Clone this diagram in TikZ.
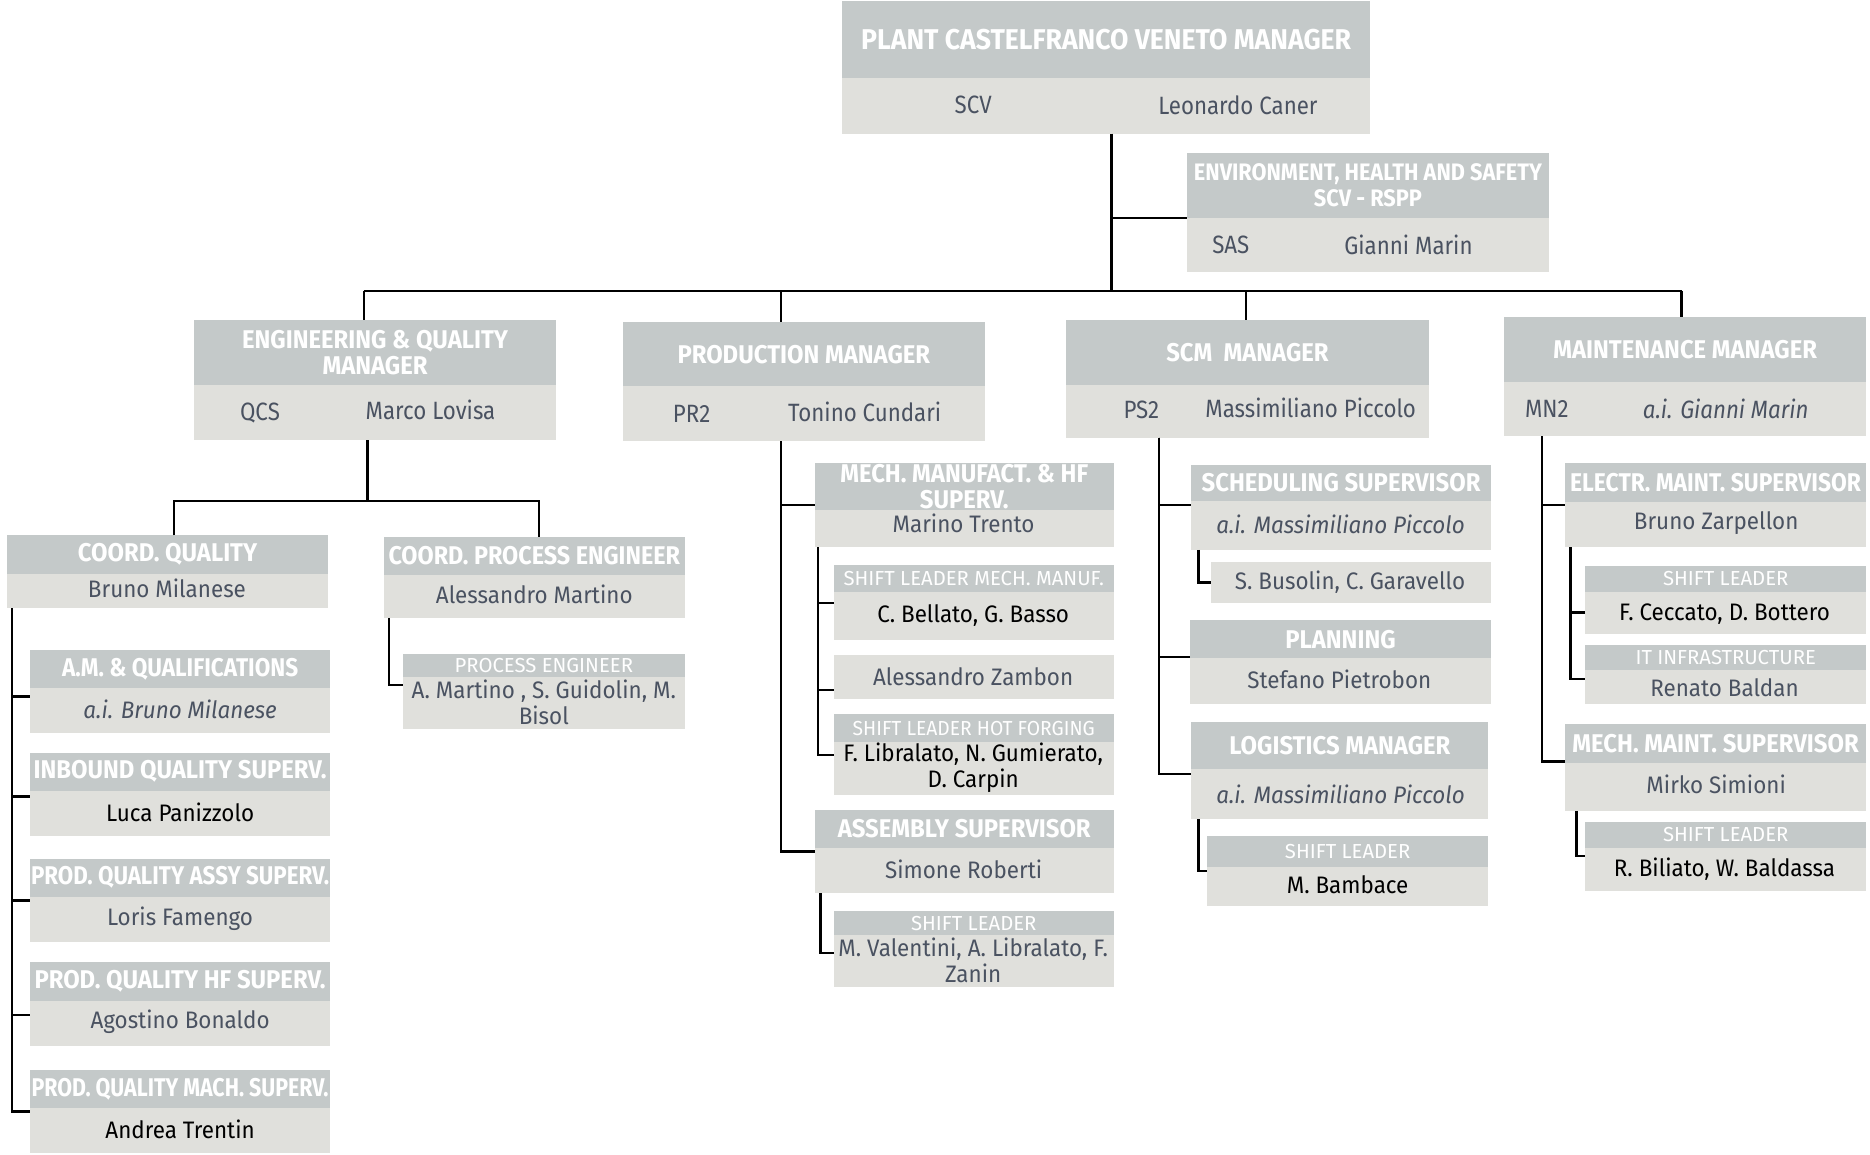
\documentclass[tikz,border=0pt]{standalone}
\usepackage{graphicx}
\usepackage{fontspec}
\setmainfont{Fira Sans}
\newfontfamily\hdfont[FakeStretch=0.93]{Fira Sans}
\newfontfamily\ehsfont[FakeStretch=0.91]{Fira Sans}
\newfontfamily\cdfont[FakeStretch=0.89]{Fira Sans}
\newfontfamily\txfont[FakeStretch=0.94]{Fira Sans}
\newfontfamily\ltfont{Fira Sans}
\definecolor{headgray}{HTML}{C4C9C9}
\definecolor{bodygray}{HTML}{E0E0DC}
\definecolor{slate}{HTML}{4A5261}

% horizontal squeeze for titles that nearly fill their bar
\newcommand\sq[2]{\scalebox{#1}[1]{#2}}

\tikzset{
  panel/.style={fill=bodygray, inner sep=0pt, outer sep=0pt, anchor=north west},
  headbar/.style={fill=headgray, inner sep=0pt, outer sep=0pt, anchor=north west, text=white, align=center},
  hdA/.style={font=\hdfont\bfseries\fontsize{24}{26}\selectfont},
  hdB/.style={font=\hdfont\bfseries\fontsize{21.5}{21.5}\selectfont},
  hdE/.style={font=\ehsfont\bfseries\fontsize{20}{22}\selectfont},
  hd/.style={font=\hdfont\bfseries\fontsize{21.5}{21.5}\selectfont},
  hdl/.style={font=\ltfont\fontsize{17}{19}\selectfont},
  mgr/.style={font=\cdfont\fontsize{21}{23}\selectfont, text=slate, inner sep=0pt},
  mgri/.style={mgr, font=\cdfont\itshape\fontsize{21}{23}\selectfont},
  bt/.style={font=\txfont\fontsize{20}{21.5}\selectfont, text=slate, inner sep=0pt, align=center},
  bti/.style={bt, font=\txfont\itshape\fontsize{20}{21.5}\selectfont},
  btk/.style={bt, text=black},
  conn/.style={line width=2pt, black},
}

% body panel: name, x1, y1, x2, y2
\newcommand\panel[5]{%
  \node[panel, minimum width={(#4-#2)*1pt}, minimum height={(#5-#3)*1pt}] (#1) at (#2,#3) {};}
% title bar: [style], name, x1, y1, x2, y-split, text
\newcommand\headbar[7][hd]{%
  \node[headbar, #1, minimum width={(#5-#3)*1pt}, minimum height={(#6-#4)*1pt}] (#2-h) at (#3,#4) {#7};}

\begin{document}
\begin{tikzpicture}[x=1pt, y=-1pt]
\useasboundingbox (0,0) rectangle (1568,968);

% ---------- plant manager ----------
\panel{top}{706}{1}{1149}{112}
\headbar[hdA]{top}{706}{1}{1149}{65}{PLANT CASTELFRANCO VENETO MANAGER}
\node[mgr] (top-c) at (816,88) {SCV};
\node[mgr] (top-n) at (1038,88) {Leonardo Caner};

% ---------- staff: EHS ----------
\panel{ehs}{995}{128}{1299}{228}
\headbar[hdE]{ehs}{995}{128}{1299}{183}{ENVIRONMENT, HEALTH AND SAFETY\\SCV - RSPP}
\node[mgr] (ehs-c) at (1032,205) {SAS};
\node[mgr] (ehs-n) at (1181,205) {Gianni Marin};

% ---------- department managers ----------
\panel{eng}{163}{268}{466}{369}
\headbar[hdB]{eng}{163}{268}{466}{323}{ENGINEERING \& QUALITY\\MANAGER}
\node[mgr] (eng-c) at (218,346) {QCS};
\node[mgr] (eng-n) at (361,344) {Marco Lovisa};

\panel{prod}{522}{270}{826}{370}
\headbar[hdB]{prod}{522}{270}{826}{324}{PRODUCTION MANAGER}
\node[mgr] (prod-c) at (580,347) {PR2};
\node[mgr] (prod-n) at (725,345) {Tonino Cundari};

\panel{scm}{894}{268}{1198}{367}
\headbar[hdB]{scm}{894}{268}{1198}{323}{SCM\ \ MANAGER}
\node[mgr] (scm-c) at (957,344) {PS2};
\node[mgr] (scm-n) at (1099,342) {Massimiliano Piccolo};

\panel{mnt}{1261}{266}{1565}{366}
\headbar[hdB]{mnt}{1261}{266}{1565}{320}{MAINTENANCE MANAGER}
\node[mgr] (mnt-c) at (1297,343) {MN2};
\node[mgri] (mnt-n) at (1447,343) {a.i. Gianni Marin};

% ---------- engineering & quality ----------
\panel{cq}{6}{449}{275}{510}
\headbar{cq}{6}{449}{275}{481}{COORD. QUALITY}
\node[bt] (cq-n) at (140,493) {Bruno Milanese};

\panel{cpe}{322}{450}{574}{518}
\headbar{cpe}{322}{450}{574}{482}{\sq{0.98}{COORD. PROCESS ENGINEER}}
\node[bt] (cpe-n) at (448,498) {Alessandro Martino};

\panel{pe}{338}{548}{574}{611}
\node[bt] (pe-n) at (456,589) {A. Martino , S. Guidolin, M.\\Bisol};
\headbar[hdl]{pe}{338}{548}{574}{568}{PROCESS ENGINEER}

\panel{am}{25}{545}{277}{615}
\headbar{am}{25}{545}{277}{577}{\sq{0.945}{A.M. \& QUALIFICATIONS}}
\node[bti] (am-n) at (151,595) {a.i. Bruno Milanese};

\panel{inb}{25}{631}{277}{701}
\headbar{inb}{25}{631}{277}{663}{INBOUND QUALITY SUPERV.}
\node[btk] (inb-n) at (151,681) {Luca Panizzolo};

\panel{pqa}{25}{720}{277}{790}
\headbar{pqa}{25}{720}{277}{752}{\sq{0.936}{PROD. QUALITY ASSY SUPERV.}}
\node[bt] (pqa-n) at (151,770) {Loris Famengo};

\panel{pqh}{25}{807}{277}{877}
\headbar{pqh}{25}{807}{277}{839}{PROD. QUALITY HF SUPERV.}
\node[bt] (pqh-n) at (151,857) {Agostino Bonaldo};

\panel{pqm}{25}{897}{277}{967}
\headbar{pqm}{25}{897}{277}{929}{\sq{0.896}{PROD. QUALITY MACH. SUPERV.}}
\node[btk] (pqm-n) at (151,947) {Andrea Trentin};

% ---------- production ----------
\panel{mm}{683}{388}{934}{459}
\begin{scope}
  \clip (683,388) rectangle (934,428);
  \headbar{mm}{683}{388}{934}{428}{MECH. MANUFACT. \& HF\\SUPERV.}
\end{scope}
\node[bt] (mm-n) at (808,439) {Marino Trento};

\panel{slm}{699}{474}{934}{537}
\headbar[hdl]{slm}{699}{474}{934}{496}{SHIFT LEADER MECH. MANUF.}
\node[btk] (slm-n) at (816,516) {C. Bellato, G. Basso};

\panel{zam}{699}{549}{934}{586}
\node[bt] (zam-n) at (816,567) {Alessandro Zambon};

\panel{slh}{699}{599}{934}{667}
\node[btk] (slh-n) at (816,644) {F. Libralato, N. Gumierato,\\D. Carpin};
\headbar[hdl]{slh}{699}{599}{934}{622}{\sq{0.95}{SHIFT LEADER HOT FORGING}}

\panel{asm}{683}{679}{934}{749}
\headbar{asm}{683}{679}{934}{711}{ASSEMBLY SUPERVISOR}
\node[bt] (asm-n) at (808,729) {Simone Roberti};

\panel{sla}{699}{764}{934}{828}
\node[bt] (sla-n) at (816,805) {M. Valentini, A. Libralato, F.\\Zanin};
\headbar[hdl]{sla}{699}{764}{934}{784}{SHIFT LEADER}

% ---------- supply chain ----------
\panel{sch}{999}{390}{1250}{461}
\headbar{sch}{999}{390}{1250}{420}{SCHEDULING SUPERVISOR}
\node[bti] (sch-n) at (1124,440) {a.i. Massimiliano Piccolo};

\panel{sbg}{1015}{471}{1250}{506}
\node[bt] (sbg-n) at (1132,488) {S. Busolin, C. Garavello};

\panel{pln}{998}{520}{1250}{590}
\headbar{pln}{998}{520}{1250}{552}{PLANNING}
\node[bt] (pln-n) at (1123,570) {Stefano Pietrobon};

\panel{log}{999}{605}{1248}{687}
\headbar{log}{999}{605}{1248}{645}{LOGISTICS MANAGER}
\node[bti] (log-n) at (1124,666) {a.i. Massimiliano Piccolo};

\panel{sll}{1012}{701}{1248}{760}
\headbar[hdl]{sll}{1012}{701}{1248}{727}{SHIFT LEADER}
\node[btk] (sll-n) at (1130,742) {M. Bambace};

% ---------- maintenance ----------
\panel{el}{1312}{388}{1565}{459}
\headbar{el}{1312}{388}{1565}{421}{\sq{0.957}{ELECTR. MAINT. SUPERVISOR}}
\node[bt] (el-n) at (1439,439) {Bruno Zarpellon};

\panel{sle}{1329}{475}{1565}{532}
\headbar[hdl]{sle}{1329}{475}{1565}{496}{SHIFT LEADER}
\node[btk] (sle-n) at (1446,515) {F. Ceccato, D. Bottero};

\panel{it}{1329}{541}{1565}{590}
\headbar[hdl]{it}{1329}{541}{1565}{562}{IT INFRASTRUCTURE}
\node[bt] (it-n) at (1446,577) {Renato Baldan};

\panel{mch}{1312}{607}{1565}{680}
\headbar{mch}{1312}{607}{1565}{640}{MECH. MAINT. SUPERVISOR}
\node[bt] (mch-n) at (1439,658) {Mirko Simioni};

\panel{slk}{1329}{689}{1565}{747}
\headbar[hdl]{slk}{1329}{689}{1565}{711}{SHIFT LEADER}
\node[btk] (slk-n) at (1446,729) {R. Biliato, W. Baldassa};

% ---------- connectors ----------
\coordinate (b0) at (932,244);
\coordinate (bL) at (305,244);
\coordinate (bP) at (655,244);
\coordinate (bS) at (1045,244);
\coordinate (bR) at (1410,244);
\draw[conn] (top.south -| b0) -- (b0);
\draw[conn] (b0 |- ehs-h.south) -- (ehs-h.south west);
\draw[conn] (bL) -- (bR);
\draw[conn] (bL) -- (bL |- eng.north);
\draw[conn] (bP) -- (bP |- prod.north);
\draw[conn] (bS) -- (bS |- scm.north);
\draw[conn] (bR) -- (bR |- mnt.north);

% engineering & quality
\coordinate (ej) at (308,420);
\coordinate (ejL) at (146,420);
\coordinate (ejR) at (452,420);
\draw[conn] (ej |- eng.south) -- (ej);
\draw[conn] (ejL |- cq.north) -- (ejL) -- (ejR) -- (ejR |- cpe.north);
\coordinate (cqx) at (10,0);
\draw[conn] (cqx |- cq.south) -- (cqx |- pqm.west);
\draw[conn] ([yshift=-4pt]am.west) -- ++(-16,0);
\draw[conn] ([yshift=-2pt]inb.west) -- ++(-16,0);
\draw[conn] (pqa.west) -- ++(-16,0);
\draw[conn] ([yshift=-9pt]pqh.west) -- ++(-16,0);
\draw[conn] (pqm.west) -- ++(-16,0);
\coordinate (cpx) at (326,0);
\draw[conn] (cpx |- cpe.south) |- ([yshift=5pt]pe.west);

% production
\draw[conn] (bP |- prod.south) |- (mm.west);
\draw[conn] (bP |- prod.south) |- (asm.west);
\coordinate (mmx) at (686,0);
\draw[conn] (mmx |- mm.south) |- (slm.west);
\draw[conn] (mmx |- mm.south) |- ([yshift=-11pt]zam.west);
\draw[conn] (mmx |- mm.south) |- (slh.west);
\coordinate (asx) at (688,0);
\draw[conn] (asx |- asm.south) |- ([yshift=-3pt]sla.west);

% supply chain
\coordinate (scx) at (972,0);
\draw[conn] (scx |- scm.south) |- ([yshift=2pt]sch.west);
\draw[conn] (scx |- scm.south) |- ([yshift=4pt]pln.west);
\draw[conn] (scx |- scm.south) |- ([yshift=-3pt]log.west);
\coordinate (shx) at (1005,0);
\draw[conn] (shx |- sch.south) |- (sbg.west);
\draw[conn] (shx |- log.south) |- (sll.west);

% maintenance
\coordinate (mnx) at (1293,0);
\draw[conn] (mnx |- mnt.south) |- (el.west);
\draw[conn] (mnx |- mnt.south) |- ([yshift=5pt]mch.west);
\coordinate (elx) at (1317,0);
\draw[conn] (elx |- el.south) |- ([yshift=-10pt]sle.west);
\draw[conn] (elx |- el.south) |- ([yshift=-4pt]it.west);
\coordinate (mcx) at (1322,0);
\draw[conn] (mcx |- mch.south) |- (slk.west);
\end{tikzpicture}
\end{document}
